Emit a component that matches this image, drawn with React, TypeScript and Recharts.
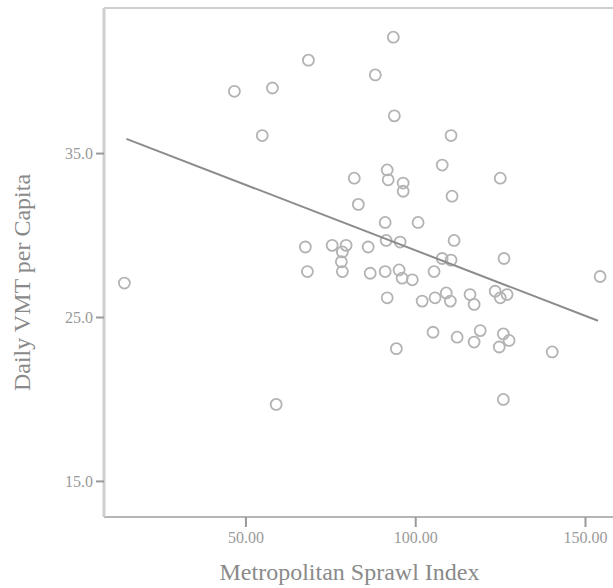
import React from "react";
import { ScatterChart, Scatter, XAxis, YAxis } from "recharts";

const sprawlIndex = [
  93.4, 68.4, 88.1, 46.6, 57.8, 93.7, 54.8, 110.4, 107.8, 81.9,
  91.6, 91.9, 96.3, 96.3, 124.9, 83.1, 110.7, 91.0, 100.7, 91.3,
  95.4, 86.0, 111.3, 107.8, 110.4, 126.0, 154.3, 14.2, 67.5, 75.4,
  79.5, 78.4, 78.1, 68.1, 78.4, 86.6, 91.0, 95.1, 96.0, 99.0,
  105.4, 91.6, 101.9, 105.7, 109.0, 110.2, 116.0, 117.2, 123.4, 124.9,
  126.9, 105.1, 94.3, 112.2, 117.2, 119.0, 125.8, 127.5, 124.6, 140.2,
  58.9, 125.8,
];
const dailyVmt = [
  42.1, 40.7, 39.8, 38.8, 39.0, 37.3, 36.1, 36.1, 34.3, 33.5,
  34.0, 33.4, 33.2, 32.7, 33.5, 31.9, 32.4, 30.8, 30.8, 29.7,
  29.6, 29.3, 29.7, 28.6, 28.5, 28.6, 27.5, 27.1, 29.3, 29.4,
  29.4, 29.0, 28.4, 27.8, 27.8, 27.7, 27.8, 27.9, 27.4, 27.3,
  27.8, 26.2, 26.0, 26.2, 26.5, 26.0, 26.4, 25.8, 26.6, 26.2,
  26.4, 24.1, 23.1, 23.8, 23.5, 24.2, 24.0, 23.6, 23.2, 22.9,
  19.7, 20.0,
];
const fitX = [14.8, 153.7];
const fitY = [35.9, 24.8];
const xTicks = [50, 100, 150];
const yTicks = [15, 25, 35];

const points = sprawlIndex.map((x, i) => ({ x, y: dailyVmt[i] }));
const fitLine = fitX.map((x, i) => ({ x, y: fitY[i] }));

const FONT = "'Liberation Serif', 'DejaVu Serif', serif";

const XLabel = (props: any) => {
  const vb = props.viewBox;
  return (
    <text
      x={vb.x + vb.width / 2 - 9}
      y={vb.y + 63}
      textAnchor="middle"
      fill="#8a8a8a"
      fontSize={24}
      fontFamily={FONT}
    >
      Metropolitan Sprawl Index
    </text>
  );
};

const YLabel = (props: any) => {
  const vb = props.viewBox;
  const cx = vb.x + 30;
  const cy = vb.y + vb.height / 2 + 20;
  return (
    <text
      x={cx}
      y={cy}
      transform={`rotate(-90 ${cx} ${cy})`}
      textAnchor="middle"
      fill="#8a8a8a"
      fontSize={24}
      fontFamily={FONT}
    >
      Daily VMT per Capita
    </text>
  );
};

export default function App() {
  return (
    <div style={{ position: "absolute", left: 0, top: 0, width: 613, height: 588, background: "#fff" }}>
      <ScatterChart width={613} height={588} margin={{ top: 7, right: 0, bottom: 0, left: 0 }}>
        <XAxis
          xAxisId="top"
          orientation="top"
          type="number"
          dataKey="x"
          domain={[8.2, 158.1]}
          height={1}
          tick={false}
          tickLine={false}
          axisLine={{ stroke: "#cfcfcf", strokeWidth: 2 }}
        />
        <XAxis
          type="number"
          dataKey="x"
          domain={[8.2, 158.1]}
          ticks={xTicks}
          tickFormatter={(v: number) => v.toFixed(2)}
          height={71}
          tickSize={10}
          tickMargin={5}
          tick={{ fill: "#9a9a9a", fontSize: 16, fontFamily: FONT }}
          tickLine={{ stroke: "#999", strokeWidth: 2 }}
          axisLine={{ stroke: "#b5b5b5", strokeWidth: 2 }}
          label={<XLabel />}
        />
        <YAxis
          type="number"
          dataKey="y"
          domain={[12.83, 43.88]}
          ticks={yTicks}
          tickFormatter={(v: number) => v.toFixed(1)}
          width={104}
          tickSize={8}
          tickMargin={3}
          tick={{ fill: "#9a9a9a", fontSize: 16, fontFamily: FONT }}
          tickLine={{ stroke: "#999", strokeWidth: 2 }}
          axisLine={{ stroke: "#cfcfcf", strokeWidth: 3 }}
          label={<YLabel />}
        />
        <Scatter
          data={points}
          isAnimationActive={false}
          shape={(p: any) => (
            <circle cx={p.cx} cy={p.cy} r={5.5} fill="none" stroke="#b3b3b3" strokeWidth={1.8} />
          )}
        />
        <Scatter
          data={fitLine}
          isAnimationActive={false}
          line={{ stroke: "#8c8c8c", strokeWidth: 2 }}
          shape={() => null}
        />
      </ScatterChart>
    </div>
  );
}
